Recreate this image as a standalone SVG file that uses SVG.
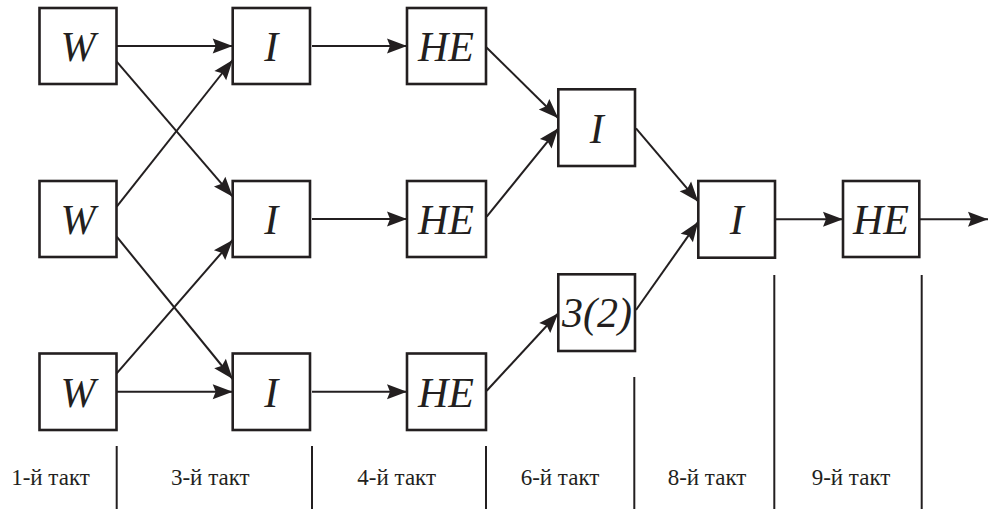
<svg xmlns="http://www.w3.org/2000/svg" width="988" height="509" viewBox="0 0 988 509">
<style>
.box{fill:#fff;stroke:#231f20;stroke-width:2.6}
.lbl{font-style:italic;font-size:42px;fill:#231f20;text-anchor:middle}
.con{stroke:#231f20;stroke-width:2;fill:none;marker-end:url(#ah)}
.sep{stroke:#231f20;stroke-width:2;fill:none}
.tk{font-size:23px;fill:#231f20;text-anchor:middle}
</style>
<defs>
<marker id="ah" markerUnits="userSpaceOnUse" viewBox="-21 -8 22 16" refX="0" refY="0" markerWidth="22" markerHeight="16" orient="auto">
<path d="M0,0 L-20,-7.5 L-17,0 L-20,7.5 Z" fill="#231f20"/>
</marker>
</defs>
<rect width="988" height="509" fill="#fff"/>
<g id="connectors">
<line class="con" x1="116.5" y1="46" x2="232.7" y2="46"/>
<line class="con" x1="116.7" y1="61.7" x2="232.7" y2="196.7"/>
<line class="con" x1="116.7" y1="206.7" x2="232.7" y2="60"/>
<line class="con" x1="116.7" y1="236.7" x2="232.7" y2="379"/>
<line class="con" x1="116.7" y1="373.3" x2="232.7" y2="240"/>
<line class="con" x1="116.5" y1="391.7" x2="232.7" y2="391.7"/>
<line class="con" x1="312" y1="46" x2="407" y2="46"/>
<line class="con" x1="312" y1="219" x2="407" y2="219"/>
<line class="con" x1="312" y1="391.7" x2="407" y2="391.7"/>
<line class="con" x1="486" y1="47" x2="558.3" y2="118.3"/>
<line class="con" x1="486.7" y1="216.7" x2="558.3" y2="128.3"/>
<line class="con" x1="486.7" y1="390.7" x2="558.3" y2="313.3"/>
<line class="con" x1="636" y1="128.3" x2="698.3" y2="201.7"/>
<line class="con" x1="636" y1="310" x2="698.3" y2="221.7"/>
<line class="con" x1="775" y1="219.3" x2="843" y2="219.3"/>
<line class="con" x1="919.3" y1="219.3" x2="988" y2="219.3"/>
</g>
<g font-family="Liberation Serif, DejaVu Serif, serif">
<g id="W1"><rect class="box" x="39.5" y="8" width="77" height="76"/><text class="lbl" x="78" y="61">W</text></g>
<g id="W2"><rect class="box" x="39.5" y="181" width="77" height="76"/><text class="lbl" x="78" y="234">W</text></g>
<g id="W3"><rect class="box" x="39.5" y="353.5" width="77" height="76.5"/><text class="lbl" x="78" y="406.5">W</text></g>
<g id="I1"><rect class="box" x="232.7" y="8" width="77.3" height="76"/><text class="lbl" x="271.3" y="61">I</text></g>
<g id="I2"><rect class="box" x="232.7" y="181" width="77.3" height="76"/><text class="lbl" x="271.3" y="234">I</text></g>
<g id="I3"><rect class="box" x="232.7" y="353.5" width="77.3" height="76.5"/><text class="lbl" x="271.3" y="406.5">I</text></g>
<g id="HE1"><rect class="box" x="407" y="8" width="79" height="76"/><text class="lbl" x="446" y="61">HE</text></g>
<g id="HE2"><rect class="box" x="407" y="181" width="79" height="76"/><text class="lbl" x="446" y="234">HE</text></g>
<g id="HE3"><rect class="box" x="407" y="353.5" width="79" height="76.5"/><text class="lbl" x="446" y="406.5">HE</text></g>
<g id="I5"><rect class="box" x="558.3" y="89.3" width="76.7" height="76.7"/><text class="lbl" x="596.7" y="142.5">I</text></g>
<g id="Z32"><rect class="box" x="558.3" y="274.3" width="76.7" height="76.7"/><text class="lbl" x="597" y="326.7">3(2)</text></g>
<g id="I6"><rect class="box" x="698.3" y="181" width="76.7" height="76.7"/><text class="lbl" x="736.7" y="234">I</text></g>
<g id="HE4"><rect class="box" x="843" y="181" width="76.3" height="76"/><text class="lbl" x="881" y="234">HE</text></g>
<g id="timeline">
<line class="sep" x1="116.7" y1="446" x2="116.7" y2="509"/>
<line class="sep" x1="312" y1="446" x2="312" y2="509"/>
<line class="sep" x1="486" y1="446" x2="486" y2="509"/>
<line class="sep" x1="634.3" y1="377" x2="634.3" y2="509"/>
<line class="sep" x1="774.3" y1="275" x2="774.3" y2="509"/>
<line class="sep" x1="921.7" y1="275" x2="921.7" y2="509"/>
<text class="tk" x="50.5" y="484.5">1-й такт</text>
<text class="tk" x="210.3" y="484.5">3-й такт</text>
<text class="tk" x="396.7" y="484.5">4-й такт</text>
<text class="tk" x="560" y="484.5">6-й такт</text>
<text class="tk" x="707" y="484.5">8-й такт</text>
<text class="tk" x="851" y="484.5">9-й такт</text>
</g>
</g>
</svg>
